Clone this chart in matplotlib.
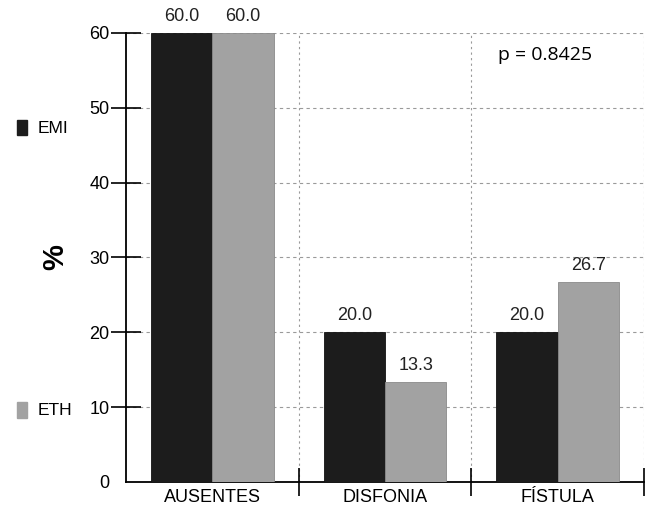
import numpy as np
import matplotlib.pyplot as plt

categories = ["AUSENTES", "DISFONIA", "FÍSTULA"]
emi = [60.0, 20.0, 20.0]
eth = [60.0, 13.3, 26.7]
y_ticks = [0, 10, 20, 30, 40, 50, 60]

plt.rcParams['font.family'] = ['Liberation Sans', 'DejaVu Sans']

fig = plt.figure(figsize=(6.47, 5.12), dpi=100)
ax = fig.add_axes([0.1947, 0.0586, 0.8006, 0.877])

x = np.arange(len(categories))
w = 0.355
black = "#1c1c1c"
gray = "#a2a2a2"

b1 = ax.bar(x - w / 2, emi, w, color=black, edgecolor="#111111", linewidth=0.6, zorder=3)
b2 = ax.bar(x + w / 2, eth, w, color=gray, edgecolor="#8a8a8a", linewidth=0.6, zorder=3)

for bars, vals in ((b1, emi), (b2, eth)):
    for r, v in zip(bars, vals):
        ax.text(r.get_x() + r.get_width() / 2, v + 1.1, "%.1f" % v,
                ha="center", va="bottom", fontsize=13, color="#222222", clip_on=False)

ax.set_xlim(-0.5, 2.5)
ax.set_ylim(0, 60)
ax.set_yticks(y_ticks)
ax.set_xticks(x)
ax.set_xticklabels(categories, fontsize=13)
ax.set_xticks([0.5, 1.5, 2.5], minor=True)
ax.tick_params(axis="x", which="major", length=0, pad=5)
ax.tick_params(axis="x", which="minor", direction="inout", length=20, width=1.2)
ax.tick_params(axis="y", direction="inout", length=22, width=1.2, labelsize=13, pad=1)
# no tick mark at zero
ax.yaxis.get_major_ticks()[0].tick1line.set_visible(False)

ax.grid(axis="y", which="major", linestyle=(0, (3, 3)), color="#9a9a9a", linewidth=0.8, zorder=0)
ax.grid(axis="x", which="minor", linestyle=(0, (2, 3)), color="#9a9a9a", linewidth=0.8, zorder=0)

for s in ("top", "right"):
    ax.spines[s].set_visible(False)
ax.spines["left"].set_linewidth(1.3)
ax.spines["bottom"].set_linewidth(1.3)

ax.set_ylabel("%", fontsize=21, fontweight="bold", labelpad=14)

# legend at the left side
ax.text(-1.01, 47.3, "EMI", fontsize=12.5, va="center", clip_on=False)
ax.text(-1.01, 9.6, "ETH", fontsize=12.5, va="center", clip_on=False)
ax.add_patch(plt.Rectangle((-1.13, 46.3), 0.055, 2.1, color=black, clip_on=False))
ax.add_patch(plt.Rectangle((-1.13, 8.6), 0.055, 2.1, color=gray, clip_on=False))

ax.text(1.93, 57.0, "p = 0.8425", fontsize=14, ha="center", va="center",
        family=["Open Sans", "DejaVu Sans"])

fig.savefig("out.png", dpi=100)
